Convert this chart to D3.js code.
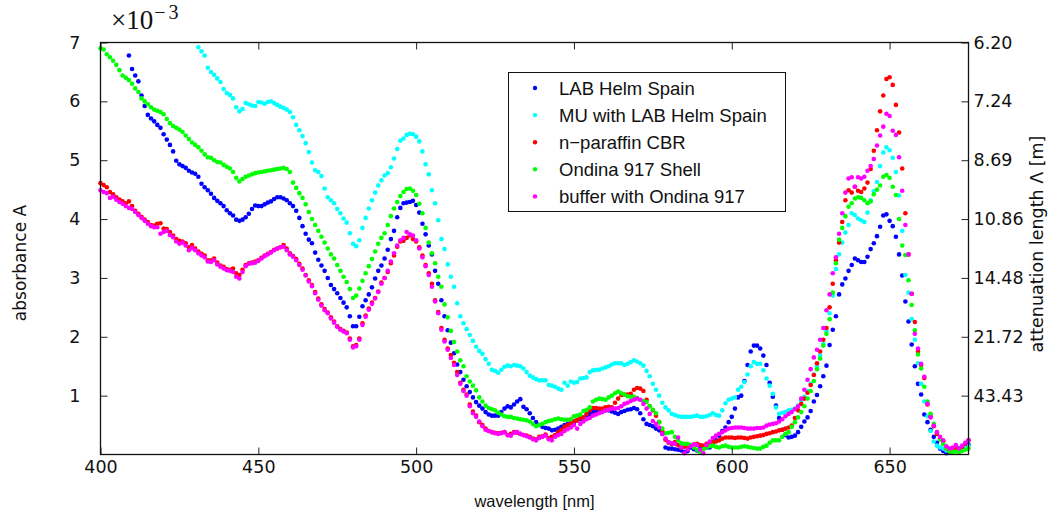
<!DOCTYPE html>
<html>
<head>
<meta charset="utf-8">
<script src="https://cdnjs.cloudflare.com/ajax/libs/d3/7.8.5/d3.min.js"></script>
<style>
  body { margin: 0; background: #fff; }
</style>
</head>
<body>
<div id="chart"></div>
<script>
// absorbance spectra, one value per nm, in units of 1e-3
var seriesNames = ["LAB Helm Spain", "MU with LAB Helm Spain", "n\u2212paraffin CBR", "Ondina 917 Shell", "buffer with Ondina 917"]
var seriesColors = ["#0000ff", "#00ffff", "#ff0000", "#00ff00", "#ff00ff"]
var startNm = [409, 431, 400, 400, 400]

var labHelm = [
  6.78, 6.55, 6.44, 6.34, 6.10, 5.92, 5.77, 5.71, 5.66, 5.60, // 409
  5.55, 5.44, 5.35, 5.26, 5.15, 4.99, 4.93, 4.90, 4.87, 4.82, // 419
  4.79, 4.77, 4.72, 4.60, 4.54, 4.49, 4.43, 4.36, 4.31, 4.27, // 429
  4.22, 4.15, 4.10, 4.06, 3.99, 3.97, 3.99, 4.03, 4.09, 4.17, // 439
  4.23, 4.22, 4.22, 4.25, 4.28, 4.30, 4.34, 4.37, 4.37, 4.35, // 449
  4.32, 4.27, 4.22, 4.14, 4.02, 3.88, 3.75, 3.65, 3.59, 3.43, // 459
  3.31, 3.21, 3.12, 3.00, 2.88, 2.81, 2.74, 2.66, 2.58, 2.50, // 469
  2.35, 2.18, 2.18, 2.34, 2.52, 2.62, 2.72, 2.84, 2.99, 3.12, // 479
  3.21, 3.33, 3.48, 3.66, 3.80, 4.03, 4.19, 4.27, 4.28, 4.29, // 489
  4.31, 4.24, 4.11, 3.92, 3.74, 3.55, 3.40, 3.12, 2.90, 2.62, // 499
  2.35, 2.11, 1.90, 1.72, 1.53, 1.40, 1.27, 1.16, 1.06, 0.97, // 509
  0.89, 0.83, 0.78, 0.72, 0.68, 0.66, 0.66, 0.66, 0.72, 0.78, // 519
  0.82, 0.80, 0.85, 0.90, 0.94, 0.81, 0.77, 0.70, 0.62, 0.55, // 529
  0.50, 0.47, 0.45, 0.44, 0.41, 0.42, 0.44, 0.47, 0.50, 0.52, // 539
  0.53, 0.55, 0.58, 0.60, 0.62, 0.67, 0.69, 0.72, 0.74, 0.75, // 549
  0.75, 0.75, 0.75, 0.73, 0.71, 0.69, 0.72, 0.74, 0.76, 0.77, // 559
  0.79, 0.77, 0.70, 0.60, 0.52, 0.50, 0.48, 0.44, 0.41, 0.35, // 569
  0.12, 0.10, 0.10, 0.09, 0.08, 0.07, 0.04, 0.06, 0.12, 0.09, // 579
  0.07, 0.10, 0.12, 0.12, 0.12, 0.18, 0.24, 0.32, 0.40, 0.46, // 589
  0.55, 0.64, 0.78, 0.97, 1.00, 1.25, 1.52, 1.75, 1.85, 1.85, // 599
  1.80, 1.68, 1.52, 1.22, 0.98, 0.83, 0.62, 0.42, 0.33, 0.29, // 609
  0.30, 0.32, 0.38, 0.47, 0.56, 0.63, 0.74, 0.90, 1.01, 1.16, // 619
  1.33, 1.51, 1.86, 2.12, 2.35, 2.72, 2.89, 2.99, 3.12, 3.22, // 629
  3.33, 3.30, 3.27, 3.27, 3.36, 3.49, 3.59, 3.71, 3.87, 4.06, // 639
  4.08, 3.97, 3.88, 3.70, 3.40, 3.04, 2.60, 2.26, 1.87, 1.50, // 649
  1.20, 1.02, 0.68, 0.55, 0.42, 0.30, 0.20, 0.10, 0.06, 0.02, // 659
  0.05, 0.08, 0.10, 0.11, 0.12, 0.14, 0.17                    // 669
]

var muLabHelm = [
  6.92, 6.85, 6.78, 6.57, 6.50, 6.45, 6.39, 6.33, 6.21, 6.14, // 431
  6.11, 6.05, 5.90, 5.83, 5.87, 5.97, 5.95, 5.93, 5.92, 5.99, // 441
  5.98, 5.96, 5.99, 6.00, 5.97, 5.94, 5.91, 5.89, 5.86, 5.82, // 451
  5.73, 5.60, 5.51, 5.41, 5.29, 5.14, 4.96, 4.83, 4.80, 4.73, // 461
  4.52, 4.37, 4.32, 4.27, 4.17, 4.10, 4.01, 3.94, 3.76, 3.58, // 471
  3.54, 3.64, 3.85, 4.02, 4.18, 4.32, 4.45, 4.57, 4.66, 4.74, // 481
  4.78, 4.88, 5.03, 5.19, 5.33, 5.37, 5.43, 5.45, 5.44, 5.40, // 491
  5.32, 5.15, 4.93, 4.76, 4.49, 4.27, 3.98, 3.66, 3.49, 3.23, // 501
  3.02, 2.85, 2.57, 2.35, 2.23, 2.13, 2.03, 1.93, 1.83, 1.76, // 511
  1.71, 1.62, 1.54, 1.44, 1.42, 1.39, 1.44, 1.49, 1.51, 1.50, // 521
  1.52, 1.51, 1.50, 1.46, 1.40, 1.34, 1.31, 1.28, 1.26, 1.26, // 531
  1.26, 1.18, 1.17, 1.15, 1.12, 1.10, 1.22, 1.17, 1.24, 1.22, // 541
  1.23, 1.29, 1.30, 1.31, 1.40, 1.43, 1.44, 1.44, 1.46, 1.48, // 551
  1.50, 1.53, 1.55, 1.55, 1.55, 1.52, 1.54, 1.57, 1.60, 1.58, // 561
  1.55, 1.51, 1.42, 1.33, 1.20, 1.10, 1.00, 0.88, 0.80, 0.75, // 571
  0.69, 0.67, 0.65, 0.64, 0.64, 0.64, 0.64, 0.65, 0.66, 0.64, // 581
  0.64, 0.65, 0.67, 0.70, 0.67, 0.66, 0.75, 0.87, 0.93, 0.95, // 591
  0.97, 1.10, 1.15, 1.23, 1.36, 1.50, 1.57, 1.54, 1.54, 1.43, // 601
  1.29, 1.17, 1.03, 0.80, 0.69, 0.71, 0.72, 0.75, 0.76, 0.78, // 611
  0.83, 0.92, 0.98, 1.08, 1.20, 1.36, 1.50, 1.68, 1.88, 2.10, // 621
  2.40, 2.70, 3.15, 3.40, 3.60, 3.77, 3.90, 4.10, 4.07, 4.01, // 631
  3.98, 3.95, 4.11, 4.32, 4.47, 4.63, 4.90, 5.13, 5.22, 5.17, // 641
  5.04, 4.80, 4.40, 3.80, 3.05, 2.75, 2.30, 1.95, 1.55, 1.20, // 651
  0.90, 0.65, 0.40, 0.22, 0.15, 0.12, 0.10, 0.07, 0.08, 0.09, // 661
  0.08, 0.10, 0.08, 0.12, 0.15                                // 671
]

var nParaffin = [
  4.61, 4.58, 4.54, 4.46, 4.42, 4.37, 4.33, 4.30, 4.27, 4.30, // 400
  4.22, 4.14, 4.09, 4.04, 3.99, 3.95, 3.90, 3.89, 3.92, 3.93, // 410
  3.84, 3.83, 3.78, 3.72, 3.66, 3.63, 3.62, 3.59, 3.52, 3.56, // 420
  3.50, 3.45, 3.41, 3.38, 3.30, 3.30, 3.33, 3.26, 3.21, 3.19, // 430
  3.15, 3.14, 3.16, 3.08, 3.05, 3.14, 3.22, 3.25, 3.26, 3.28, // 440
  3.30, 3.34, 3.38, 3.41, 3.44, 3.48, 3.50, 3.52, 3.56, 3.50, // 450
  3.42, 3.37, 3.32, 3.24, 3.16, 3.05, 2.96, 2.88, 2.76, 2.65, // 460
  2.55, 2.47, 2.41, 2.33, 2.26, 2.18, 2.13, 2.10, 2.07, 1.97, // 470
  1.84, 1.86, 1.97, 2.23, 2.36, 2.48, 2.58, 2.66, 2.77, 2.92, // 480
  3.00, 3.10, 3.25, 3.38, 3.53, 3.62, 3.63, 3.68, 3.72, 3.66, // 490
  3.62, 3.52, 3.38, 3.22, 3.08, 2.90, 2.62, 2.42, 2.15, 1.95, // 500
  1.80, 1.69, 1.56, 1.40, 1.22, 1.10, 1.02, 0.85, 0.73, 0.66, // 510
  0.55, 0.50, 0.44, 0.40, 0.38, 0.37, 0.36, 0.37, 0.38, 0.33, // 520
  0.35, 0.38, 0.37, 0.35, 0.33, 0.32, 0.30, 0.27, 0.26, 0.30, // 530
  0.31, 0.34, 0.28, 0.30, 0.33, 0.38, 0.42, 0.47, 0.50, 0.53, // 540
  0.57, 0.58, 0.62, 0.63, 0.69, 0.75, 0.79, 0.79, 0.78, 0.78, // 550
  0.80, 0.81, 0.80, 0.88, 0.95, 1.01, 1.02, 1.02, 1.03, 1.10, // 560
  1.13, 1.12, 1.08, 0.93, 0.82, 0.75, 0.66, 0.55, 0.40, 0.25, // 570
  0.20, 0.18, 0.21, 0.16, 0.12, 0.13, 0.15, 0.16, 0.17, 0.18, // 580
  0.16, 0.15, 0.18, 0.20, 0.21, 0.22, 0.24, 0.27, 0.29, 0.29, // 590
  0.29, 0.28, 0.29, 0.29, 0.28, 0.27, 0.29, 0.30, 0.31, 0.32, // 600
  0.33, 0.35, 0.36, 0.38, 0.39, 0.41, 0.42, 0.44, 0.46, 0.49, // 610
  0.62, 0.75, 0.86, 0.95, 1.05, 1.18, 1.35, 1.55, 1.75, 1.95, // 620
  2.15, 2.50, 2.90, 3.30, 3.60, 3.95, 4.32, 4.49, 4.45, 4.55, // 630
  4.48, 4.46, 4.52, 4.62, 4.85, 5.16, 5.51, 5.83, 6.10, 6.38, // 640
  6.41, 6.28, 5.94, 5.47, 4.86, 4.10, 3.40, 2.73, 2.25, 1.75, // 650
  1.52, 1.30, 0.85, 0.65, 0.48, 0.35, 0.27, 0.22, 0.10, 0.05, // 660
  0.08, 0.10, 0.09, 0.12, 0.18, 0.24                          // 670
]

var ondina = [
  6.90, 6.88, 6.80, 6.75, 6.69, 6.62, 6.53, 6.44, 6.40, 6.36, // 400
  6.30, 6.22, 6.16, 6.05, 6.00, 5.95, 5.90, 5.86, 5.84, 5.82, // 410
  5.78, 5.70, 5.63, 5.58, 5.55, 5.52, 5.48, 5.42, 5.36, 5.30, // 420
  5.26, 5.22, 5.16, 5.10, 5.05, 5.04, 5.00, 4.97, 4.96, 4.92, // 430
  4.89, 4.86, 4.80, 4.70, 4.64, 4.68, 4.72, 4.74, 4.76, 4.78, // 440
  4.79, 4.80, 4.81, 4.82, 4.83, 4.84, 4.85, 4.86, 4.87, 4.85, // 450
  4.80, 4.62, 4.53, 4.44, 4.36, 4.25, 4.12, 4.00, 3.90, 3.80, // 460
  3.70, 3.60, 3.50, 3.40, 3.33, 3.22, 3.12, 3.02, 2.93, 2.81, // 470
  2.66, 2.70, 2.82, 2.95, 3.08, 3.20, 3.32, 3.45, 3.58, 3.68, // 480
  3.76, 3.90, 4.05, 4.18, 4.29, 4.39, 4.46, 4.51, 4.52, 4.48, // 490
  4.41, 4.26, 4.10, 3.85, 3.60, 3.42, 3.25, 3.02, 2.85, 2.55, // 500
  2.33, 2.10, 1.91, 1.75, 1.60, 1.50, 1.33, 1.24, 1.17, 1.09, // 510
  0.97, 0.90, 0.83, 0.79, 0.77, 0.75, 0.71, 0.68, 0.65, 0.64, // 520
  0.64, 0.62, 0.61, 0.60, 0.59, 0.58, 0.56, 0.52, 0.48, 0.50, // 530
  0.52, 0.55, 0.57, 0.58, 0.60, 0.61, 0.60, 0.59, 0.59, 0.60, // 540
  0.65, 0.66, 0.68, 0.74, 0.76, 0.80, 0.90, 0.93, 0.95, 0.94, // 550
  0.93, 0.97, 1.00, 1.04, 1.07, 1.04, 1.02, 0.99, 0.98, 0.98, // 560
  0.96, 0.93, 0.91, 0.89, 0.82, 0.76, 0.70, 0.55, 0.44, 0.36, // 570
  0.37, 0.38, 0.30, 0.24, 0.19, 0.18, 0.18, 0.16, 0.12, 0.08, // 580
  0.04, 0.09, 0.12, 0.14, 0.15, 0.13, 0.12, 0.14, 0.15, 0.13, // 590
  0.12, 0.12, 0.12, 0.13, 0.14, 0.13, 0.12, 0.11, 0.10, 0.10, // 600
  0.13, 0.15, 0.20, 0.24, 0.24, 0.24, 0.30, 0.35, 0.38, 0.47, // 610
  0.55, 0.63, 0.72, 0.82, 0.95, 1.08, 1.25, 1.45, 1.63, 1.85, // 620
  2.05, 2.30, 2.75, 3.25, 3.65, 3.85, 4.05, 4.21, 4.27, 4.35, // 630
  4.37, 4.36, 4.32, 4.27, 4.30, 4.42, 4.50, 4.57, 4.72, 4.75, // 640
  4.70, 4.55, 4.41, 4.00, 3.55, 3.39, 2.96, 2.54, 2.11, 1.70, // 650
  1.46, 1.15, 0.90, 0.69, 0.52, 0.38, 0.25, 0.18, 0.10, 0.05, // 660
  0.04, 0.05, 0.04, 0.06, 0.08, 0.10                          // 670
]

var bufferOndina = [
  4.49, 4.46, 4.44, 4.36, 4.38, 4.33, 4.29, 4.26, 4.22, 4.19, // 400
  4.17, 4.12, 4.07, 4.02, 3.97, 3.92, 3.88, 3.86, 3.86, 3.75, // 410
  3.78, 3.80, 3.73, 3.69, 3.62, 3.58, 3.60, 3.55, 3.47, 3.51, // 420
  3.47, 3.42, 3.38, 3.35, 3.28, 3.27, 3.30, 3.23, 3.19, 3.16, // 430
  3.13, 3.12, 3.10, 3.02, 2.99, 3.10, 3.20, 3.24, 3.25, 3.26, // 440
  3.29, 3.33, 3.37, 3.40, 3.43, 3.47, 3.50, 3.52, 3.53, 3.47, // 450
  3.40, 3.36, 3.30, 3.22, 3.14, 3.04, 2.94, 2.86, 2.74, 2.63, // 460
  2.53, 2.45, 2.40, 2.31, 2.24, 2.17, 2.12, 2.09, 2.06, 1.95, // 470
  1.82, 1.84, 1.95, 2.20, 2.34, 2.46, 2.56, 2.65, 2.76, 2.90, // 480
  3.00, 3.12, 3.28, 3.42, 3.55, 3.64, 3.68, 3.78, 3.74, 3.72, // 490
  3.64, 3.50, 3.35, 3.20, 3.05, 2.85, 2.60, 2.40, 2.12, 1.92, // 500
  1.78, 1.64, 1.52, 1.35, 1.20, 1.08, 1.00, 0.82, 0.70, 0.64, // 510
  0.56, 0.48, 0.42, 0.40, 0.38, 0.36, 0.35, 0.36, 0.38, 0.33, // 520
  0.32, 0.37, 0.38, 0.35, 0.33, 0.31, 0.29, 0.26, 0.24, 0.28, // 530
  0.30, 0.32, 0.26, 0.24, 0.30, 0.33, 0.35, 0.40, 0.43, 0.46, // 540
  0.50, 0.44, 0.52, 0.56, 0.60, 0.62, 0.66, 0.68, 0.70, 0.72, // 550
  0.75, 0.76, 0.78, 0.78, 0.79, 0.82, 0.86, 0.88, 0.91, 0.93, // 560
  0.95, 0.93, 0.86, 0.78, 0.69, 0.57, 0.52, 0.46, 0.35, 0.27, // 570
  0.21, 0.19, 0.18, 0.29, 0.12, 0.02, 0.08, 0.14, 0.17, 0.16, // 580
  0.08, 0.02, 0.16, 0.22, 0.28, 0.32, 0.35, 0.38, 0.41, 0.44, // 590
  0.45, 0.46, 0.46, 0.46, 0.45, 0.44, 0.44, 0.44, 0.45, 0.45, // 600
  0.46, 0.49, 0.51, 0.52, 0.53, 0.56, 0.60, 0.65, 0.69, 0.72, // 610
  0.77, 0.82, 0.95, 1.10, 1.27, 1.45, 1.65, 1.78, 1.95, 2.15, // 620
  2.45, 2.72, 3.08, 3.35, 3.75, 4.10, 4.45, 4.69, 4.71, 4.55, // 630
  4.71, 4.69, 4.72, 4.82, 4.90, 5.02, 5.25, 5.42, 5.57, 5.79, // 640
  5.75, 5.50, 5.43, 5.05, 4.48, 3.90, 3.40, 2.73, 2.05, 1.80, // 650
  1.54, 1.32, 0.86, 0.63, 0.49, 0.38, 0.30, 0.24, 0.14, 0.10, // 660
  0.12, 0.16, 0.10, 0.15, 0.20, 0.24                          // 670
]

var seriesValues = [labHelm, muLabHelm, nParaffin, ondina, bufferOndina]

// tick labels
var xTicks = [400, 450, 500, 550, 600, 650]
var yTicks = [1, 2, 3, 4, 5, 6, 7]
var rightTickLabels = ["43.43", "21.72", "14.48", "10.86", "8.69", "7.24", "6.20"]

var svgWidth = 1052
var svgHeight = 517

var sansFont = "'Liberation Sans', Arial, sans-serif"
var tickFontFamily = "'DejaVu Sans', Verdana, sans-serif"
var serifFont = "'Liberation Serif', 'Times New Roman', serif"

var svg = d3.select("#chart")
    .append("svg")
    .attr("width", svgWidth)
    .attr("height", svgHeight)

var plot = { left: 100.5, right: 968.5, top: 42.5, bottom: 454.5 }

var xScale = d3.scaleLinear()
    .domain([400, 675])
    .range([plot.left, plot.right])

var yScale = d3.scaleLinear()
    .domain([0, 7])
    .range([plot.bottom, plot.top])

// points, first series at the back
var pointsGroup = svg.append("g")
seriesValues.forEach(function (vals, i) {
    var pts = vals.map(function (v, j) { return { wl: startNm[i] + j, a: v } })
    pointsGroup.append("g")
        .selectAll("circle")
        .data(pts)
        .enter()
        .append("circle")
        .attr("cx", d => xScale(d.wl))
        .attr("cy", d => yScale(d.a))
        .attr("r", 2.3)
        .attr("fill", seriesColors[i])
})

// axes with inward ticks
var tickFont = 17.5

svg.append("g")
    .attr("transform", `translate(0, ${plot.bottom})`)
    .call(d3.axisBottom(xScale).tickValues(xTicks).tickSize(-7).tickPadding(6).tickFormat(d3.format("d")))

svg.append("g")
    .attr("transform", `translate(0, ${plot.top})`)
    .call(d3.axisTop(xScale).tickValues(xTicks).tickSize(-7).tickFormat(""))

svg.append("g")
    .attr("transform", `translate(${plot.left}, 0)`)
    .call(d3.axisLeft(yScale).tickValues(yTicks).tickSize(-7).tickPadding(20).tickFormat(d3.format("d")))

svg.append("g")
    .attr("transform", `translate(${plot.right}, 0)`)
    .call(d3.axisRight(yScale).tickValues(yTicks).tickSize(-7).tickPadding(5)
        .tickFormat((d, i) => rightTickLabels[i]))

svg.selectAll(".domain").remove()
svg.selectAll(".tick line").attr("stroke", "#222").attr("stroke-width", 1)
svg.selectAll(".tick text")
    .attr("font-family", tickFontFamily)
    .attr("font-size", tickFont)
    .attr("fill", "#111")

// frame
svg.append("rect")
    .attr("x", plot.left)
    .attr("y", plot.top)
    .attr("width", plot.right - plot.left)
    .attr("height", plot.bottom - plot.top)
    .attr("fill", "none")
    .attr("stroke", "#111")
    .attr("stroke-width", 1.3)

// axis titles
svg.append("text")
    .attr("x", (plot.left + plot.right) / 2)
    .attr("y", 507)
    .attr("text-anchor", "middle")
    .attr("font-family", sansFont)
    .attr("font-size", 16.5)
    .attr("fill", "#111")
    .text("wavelength [nm]")

svg.append("text")
    .attr("transform", "translate(26, 263) rotate(-90)")
    .attr("text-anchor", "middle")
    .attr("font-family", tickFontFamily)
    .attr("font-size", 17)
    .attr("fill", "#111")
    .text("absorbance A")

svg.append("text")
    .attr("transform", "translate(1043, 244) rotate(-90)")
    .attr("text-anchor", "middle")
    .attr("font-family", tickFontFamily)
    .attr("font-size", 17.5)
    .attr("fill", "#111")
    .text("attenuation length \u039B [m]")

// multiplier
var mult = svg.append("text")
    .attr("x", 111)
    .attr("y", 29)
    .attr("font-family", serifFont)
    .attr("font-size", 27)
    .attr("fill", "#111")
mult.append("tspan").text("\u00D710")
mult.append("tspan")
    .attr("dx", 1)
    .attr("dy", -10)
    .attr("font-size", 20)
    .attr("letter-spacing", 3)
    .text("\u22123")

// legend
var legend = svg.append("g")
legend.append("rect")
    .attr("x", 508.5)
    .attr("y", 72.5)
    .attr("width", 277)
    .attr("height", 139)
    .attr("fill", "#fff")
    .attr("stroke", "#111")
    .attr("stroke-width", 1)

seriesNames.forEach(function (name, i) {
    var yy = 88 + i * 27.1
    legend.append("circle")
        .attr("cx", 535)
        .attr("cy", yy)
        .attr("r", 2.2)
        .attr("fill", seriesColors[i])
    legend.append("text")
        .attr("x", 559)
        .attr("y", yy + 6.5)
        .attr("font-family", sansFont)
        .attr("font-size", 18.5)
        .attr("fill", "#111")
        .text(name)
})
</script>
</body>
</html>
